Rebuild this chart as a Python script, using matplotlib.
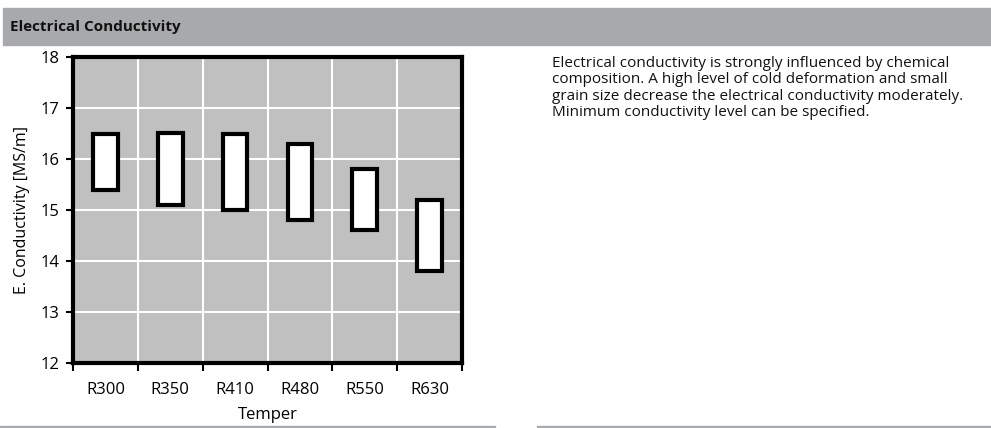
import numpy as np
import matplotlib.pyplot as plt
from matplotlib.patches import Rectangle

tempers = ["R300", "R350", "R410", "R480", "R550", "R630"]
cond_min = [15.4, 15.1, 15.0, 14.8, 14.6, 13.8]
cond_max = [16.5, 16.5, 16.5, 16.3, 15.8, 15.2]

note = ("Electrical conductivity is strongly influenced by chemical\n"
        "composition. A high level of cold deformation and small\n"
        "grain size decrease the electrical conductivity moderately.\n"
        "Minimum conductivity level can be specified.")

plt.rcParams['font.family'] = ['Open Sans', 'DejaVu Sans']

W, H = 991, 428
fig = plt.figure(figsize=(W / 100, H / 100), dpi=100)

# header band
fig.patches.append(Rectangle((3 / W, 1 - 45 / H), 1 - 3 / W, 37 / H,
                             transform=fig.transFigure, color="#a7a9aa", zorder=0))
fig.text(10 / W, 1 - 27 / H, "Electrical Conductivity", fontsize=11,
         fontweight="bold", va="center", ha="left", color="#111111")

# bottom rules
fig.patches.append(Rectangle((0, 0), 495 / W, 2 / H, transform=fig.transFigure,
                             color="#a7a9aa", zorder=5))
fig.patches.append(Rectangle((537 / W, 0), 1 - 537 / W, 2 / H,
                             transform=fig.transFigure, color="#a7a9aa", zorder=5))

ax = fig.add_axes([73 / W, 1 - 363 / H, (462 - 73) / W, (363 - 57) / H])
ax.set_facecolor("#c0c0c0")

x = np.arange(len(tempers))
heights = np.array(cond_max) - np.array(cond_min)
ax.bar(x, heights, bottom=cond_min, width=0.38, color="white",
       edgecolor="black", linewidth=3, zorder=3)

ax.set_xlim(-0.5, len(tempers) - 0.5)
ax.set_ylim(12, 18)
ax.set_yticks(range(12, 19))
ax.set_xticks(x)
ax.set_xticklabels(tempers)
ax.set_xticks(np.arange(-0.5, len(tempers)), minor=True)
ax.tick_params(axis="x", which="major", length=0, pad=14, labelsize=12)
ax.tick_params(axis="x", which="minor", length=6, width=1.5, direction="out")
ax.tick_params(axis="y", length=5, width=1.5, labelsize=12, pad=5)

ax.grid(True, which="minor", axis="x", color="white", linewidth=1.5, zorder=1)
ax.grid(True, which="major", axis="y", color="white", linewidth=1.5, zorder=1)
ax.set_axisbelow(True)

for s in ax.spines.values():
    s.set_linewidth(3)
    s.set_color("black")

ax.set_xlabel("Temper", fontsize=12)
ax.set_ylabel("E. Conductivity [MS/m]", fontsize=11.5)
ax.xaxis.set_label_coords(0.5, -0.145)
ax.yaxis.set_label_coords(-0.11, 0.5)

fig.text(552 / W, 1 - 56 / H, note, fontsize=11, va="top", ha="left",
         linespacing=1.12, color="#111111")

fig.savefig("out.png", dpi=100)
